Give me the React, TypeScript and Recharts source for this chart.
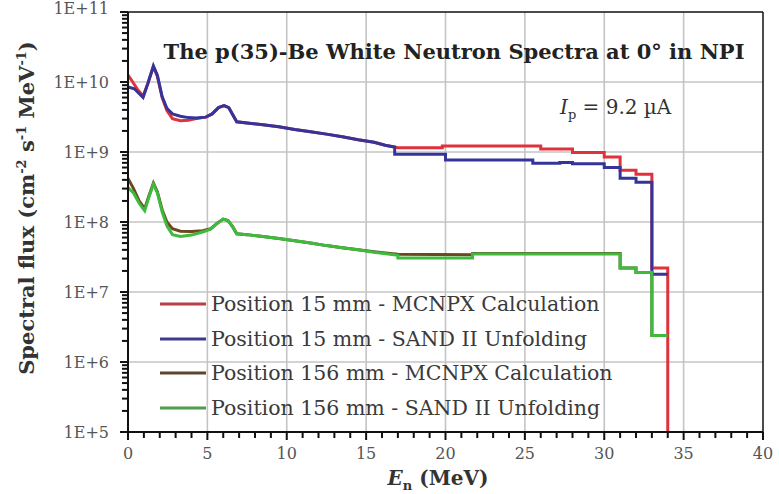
import React from 'react';
import { LineChart, Line, XAxis, YAxis, ReferenceLine, Legend, CartesianGrid } from 'recharts';

// ---- data: [E (MeV), flux] ----
const red15: [number, number][] = [
  [0, 1.25e10], [0.3, 1.0e10], [0.6, 7.8e9], [0.95, 6.3e9], [1.25, 9.5e9], [1.6, 1.65e10],
  [1.85, 1.2e10], [2.15, 6.0e9], [2.45, 3.9e9], [2.8, 3.0e9], [3.3, 2.8e9], [3.8, 2.85e9],
  [4.3, 3.0e9], [4.9, 3.15e9], [5.3, 3.5e9], [5.7, 4.3e9], [6.05, 4.6e9], [6.35, 4.3e9],
  [6.6, 3.4e9], [6.85, 2.7e9], [7.5, 2.6e9], [8.5, 2.45e9], [9.5, 2.3e9], [10.5, 2.1e9],
  [11.5, 1.95e9], [12.5, 1.8e9], [13.5, 1.65e9], [14.5, 1.5e9], [15.5, 1.38e9], [16.2, 1.25e9],
  [17, 1.15e9], [19.8, 1.15e9], [19.8, 1.22e9], [26, 1.22e9], [26, 1.1e9], [28, 1.1e9],
  [28, 0.98e9], [30, 0.98e9], [30, 0.85e9], [31, 0.85e9], [31, 0.55e9], [32, 0.55e9],
  [32, 0.48e9], [33, 0.48e9], [33, 2.2e7], [34, 2.2e7], [34, 1e5],
];
const blue15: [number, number][] = [
  [0, 8.5e9], [0.4, 8.0e9], [0.95, 6.0e9], [1.25, 9.5e9], [1.6, 1.7e10], [1.85, 1.25e10],
  [2.15, 6.2e9], [2.45, 4.2e9], [2.8, 3.5e9], [3.3, 3.25e9], [3.8, 3.1e9], [4.3, 3.05e9],
  [4.9, 3.15e9], [5.3, 3.5e9], [5.7, 4.3e9], [6.05, 4.6e9], [6.35, 4.3e9], [6.6, 3.4e9],
  [6.85, 2.7e9], [7.5, 2.6e9], [8.5, 2.45e9], [9.5, 2.3e9], [10.5, 2.1e9], [11.5, 1.95e9],
  [12.5, 1.8e9], [13.5, 1.65e9], [14.5, 1.5e9], [15.5, 1.38e9], [16.2, 1.25e9], [16.8, 1.18e9],
  [16.8, 0.93e9], [20, 0.93e9], [20, 0.77e9], [25.5, 0.77e9], [25.5, 0.69e9], [27.2, 0.69e9],
  [27.2, 0.71e9], [28, 0.71e9], [28, 0.68e9], [30, 0.68e9], [30, 0.6e9], [31, 0.6e9],
  [31, 0.42e9], [32, 0.42e9], [32, 0.37e9], [33, 0.37e9], [33, 1.8e7], [34, 1.8e7],
];
const brown156: [number, number][] = [
  [0, 4.2e8], [0.35, 3.0e8], [0.7, 2.0e8], [1.05, 1.55e8], [1.3, 2.3e8], [1.6, 3.6e8],
  [1.85, 2.7e8], [2.15, 1.5e8], [2.45, 1.0e8], [2.8, 8.0e7], [3.3, 7.4e7], [4.0, 7.3e7],
  [4.7, 7.5e7], [5.2, 8.0e7], [5.6, 9.5e7], [6.0, 1.1e8], [6.3, 1.05e8], [6.6, 8.5e7],
  [6.85, 6.8e7], [7.5, 6.6e7], [8.5, 6.2e7], [9.5, 5.8e7], [10.5, 5.4e7], [11.5, 5.0e7],
  [12.5, 4.6e7], [13.5, 4.3e7], [14.5, 4.0e7], [15.5, 3.75e7], [16.5, 3.55e7], [17, 3.45e7],
  [21.7, 3.4e7], [21.7, 3.55e7], [31, 3.55e7], [31, 2.2e7], [32, 2.2e7], [32, 1.9e7],
  [33, 1.9e7], [33, 2.4e6], [34, 2.4e6],
];
const green156: [number, number][] = [
  [0, 3.1e8], [0.35, 2.6e8], [0.7, 1.85e8], [1.05, 1.45e8], [1.3, 2.2e8], [1.6, 3.5e8],
  [1.85, 2.6e8], [2.15, 1.4e8], [2.45, 8.8e7], [2.8, 6.6e7], [3.3, 6.2e7], [4.0, 6.5e7],
  [4.7, 7.2e7], [5.2, 7.9e7], [5.6, 9.5e7], [6.0, 1.1e8], [6.3, 1.05e8], [6.6, 8.5e7],
  [6.85, 6.8e7], [7.5, 6.6e7], [8.5, 6.2e7], [9.5, 5.8e7], [10.5, 5.4e7], [11.5, 5.0e7],
  [12.5, 4.6e7], [13.5, 4.3e7], [14.5, 4.0e7], [15.5, 3.7e7], [16.5, 3.45e7], [17, 3.35e7],
  [17, 3.05e7], [21.7, 3.05e7], [21.7, 3.5e7], [31, 3.5e7], [31, 2.2e7], [32, 2.2e7],
  [32, 1.9e7], [33, 1.9e7], [33, 2.4e6], [34, 2.4e6],
];

const seriesNames = [
  'Position 15 mm - MCNPX Calculation',
  'Position 15 mm - SAND II Unfolding',
  'Position 156 mm - MCNPX Calculation',
  'Position 156 mm - SAND II Unfolding',
];
const seriesColors = ['#e0323c', '#34349a', '#6e4620', '#3dbb3d'];
const legendColors = ['#b84048', '#3c3c8c', '#5e4530', '#4e9e4e'];

const xMajor = [0, 5, 10, 15, 20, 25, 30, 35, 40];
const xTicks = Array.from({ length: 41 }, (_, i) => i);
const yDecades = [1e5, 1e6, 1e7, 1e8, 1e9, 1e10, 1e11];
const yTicks: number[] = [];
yDecades.forEach((d, i) => {
  yTicks.push(d);
  if (i < yDecades.length - 1) for (let m = 2; m <= 9; m++) yTicks.push(d * m);
});

const toRows = (arr: [number, number][]) => arr.map(([e, v]) => ({ e, v }));
const allSeries = [red15, blue15, brown156, green156].map(toRows);

const FONT = '"DejaVu Serif", serif';

const decLabel = (v: number) => {
  const ex = Math.round(Math.log10(v));
  return Math.abs(v - Math.pow(10, ex)) / v < 1e-6 ? `1E+${ex}` : '';
};

// tickSize=0 and tickMargin=0: (x, y) is the point on the axis line
const XTick = (props: any) => {
  const { x, y, payload } = props;
  const major = xMajor.includes(payload.value);
  return (
    <g>
      <rect x={x - 1} y={y} width={2} height={major ? 8 : 6} fill="#111" />
      {major && (
        <text x={x} y={y + 27} textAnchor="middle" fontFamily={FONT} fontSize={16} fill="#555">
          {payload.value}
        </text>
      )}
    </g>
  );
};
const YTick = (props: any) => {
  const { x, y, payload } = props;
  const s = decLabel(payload.value);
  const top = payload.value >= 1e11;
  return (
    <g>
      <rect x={x - (s ? 8 : 6)} y={y - 1} width={s ? 8 : 6} height={2} fill="#111" />
      {s && (
        <text x={x - 19} y={top ? y + 2 : y + 6} textAnchor="end" fontFamily={FONT} fontSize={16} fill="#555">
          {s}
        </text>
      )}
    </g>
  );
};

const LegendBox = () => (
  <div style={{ fontFamily: FONT, fontSize: 20.5, color: '#3a3a3a', textAlign: 'left' }}>
    {seriesNames.map((n, i) => (
      <div key={n} style={{ display: 'flex', alignItems: 'center', height: 34.5, whiteSpace: 'nowrap' }}>
        <svg width={48} height={6} style={{ marginRight: 3 }}>
          <line x1={0} y1={3} x2={46} y2={3} stroke={legendColors[i]} strokeWidth={3} />
        </svg>
        <span>{n}</span>
      </div>
    ))}
  </div>
);

export default function App() {
  return (
    <div style={{ position: 'absolute', left: 0, top: 0, width: 779, height: 494, background: '#fff' }}>
      <LineChart width={779} height={494} margin={{ top: 12, right: 16, bottom: 22, left: 58 }}>
        <CartesianGrid
          stroke="#c4c4c4"
          strokeWidth={1.6}
          verticalValues={xMajor.slice(1, -1)}
          horizontalValues={yDecades.slice(1, -1)}
        />
        <XAxis
          dataKey="e"
          type="number"
          domain={[0, 40]}
          ticks={xTicks}
          interval={0}
          tick={<XTick />}
          tickSize={0}
          tickMargin={0}
          tickLine={false}
          axisLine={{ stroke: '#111', strokeWidth: 2 }}
          height={40}
        />
        <YAxis
          dataKey="v"
          scale="log"
          domain={[1e5, 1e11]}
          allowDataOverflow
          ticks={yTicks}
          interval={0}
          tick={<YTick />}
          tickSize={0}
          tickMargin={0}
          tickLine={false}
          axisLine={{ stroke: '#111', strokeWidth: 2 }}
          width={70}
        />
        <ReferenceLine x={40} stroke="#111" strokeWidth={1.5} />
        <ReferenceLine y={1e11} stroke="#111" strokeWidth={1.5} />
        {allSeries.map((d, i) => (
          <Line
            key={seriesNames[i]}
            data={d}
            dataKey="v"
            name={seriesNames[i]}
            type="linear"
            stroke={seriesColors[i]}
            strokeWidth={3}
            dot={false}
            isAnimationActive={false}
          />
        ))}
        <Legend
          layout="horizontal"
          verticalAlign="middle"
          align="center"
          content={<LegendBox />}
          wrapperStyle={{ position: 'absolute', left: 160, top: 287, width: 480 }}
        />
      </LineChart>
      <svg width={779} height={494} style={{ position: 'absolute', left: 0, top: 0, pointerEvents: 'none' }}>
        <text x={454} y={59} textAnchor="middle" fontFamily={FONT} fontSize={21} fontWeight="bold" fill="#222">
          The p(35)-Be White Neutron Spectra at 0° in NPI
        </text>
        <text x={560} y={114} fontFamily={FONT} fontSize={20} fill="#333">
          <tspan fontStyle="italic">I</tspan>
          <tspan fontSize={13} dy={5}>p</tspan>
          <tspan dy={-5}> = 9.2 µA</tspan>
        </text>
        <text
          transform="translate(34 208) rotate(-90)"
          textAnchor="middle"
          fontFamily={FONT}
          fontSize={21}
          fontWeight="bold"
          fill="#333"
        >
          <tspan>Spectral flux  (cm</tspan>
          <tspan fontSize={13} dy={-8}>-2</tspan>
          <tspan dy={8}> s</tspan>
          <tspan fontSize={13} dy={-8}>-1</tspan>
          <tspan dy={8}> MeV</tspan>
          <tspan fontSize={13} dy={-8}>-1</tspan>
          <tspan dy={8}>)</tspan>
        </text>
        <text x={438} y={485} textAnchor="middle" fontFamily={FONT} fontSize={20} fontWeight="bold" fill="#333">
          <tspan fontStyle="italic">E</tspan>
          <tspan fontSize={13} dy={5}>n</tspan>
          <tspan dy={-5}>   (MeV)</tspan>
        </text>
      </svg>
    </div>
  );
}
